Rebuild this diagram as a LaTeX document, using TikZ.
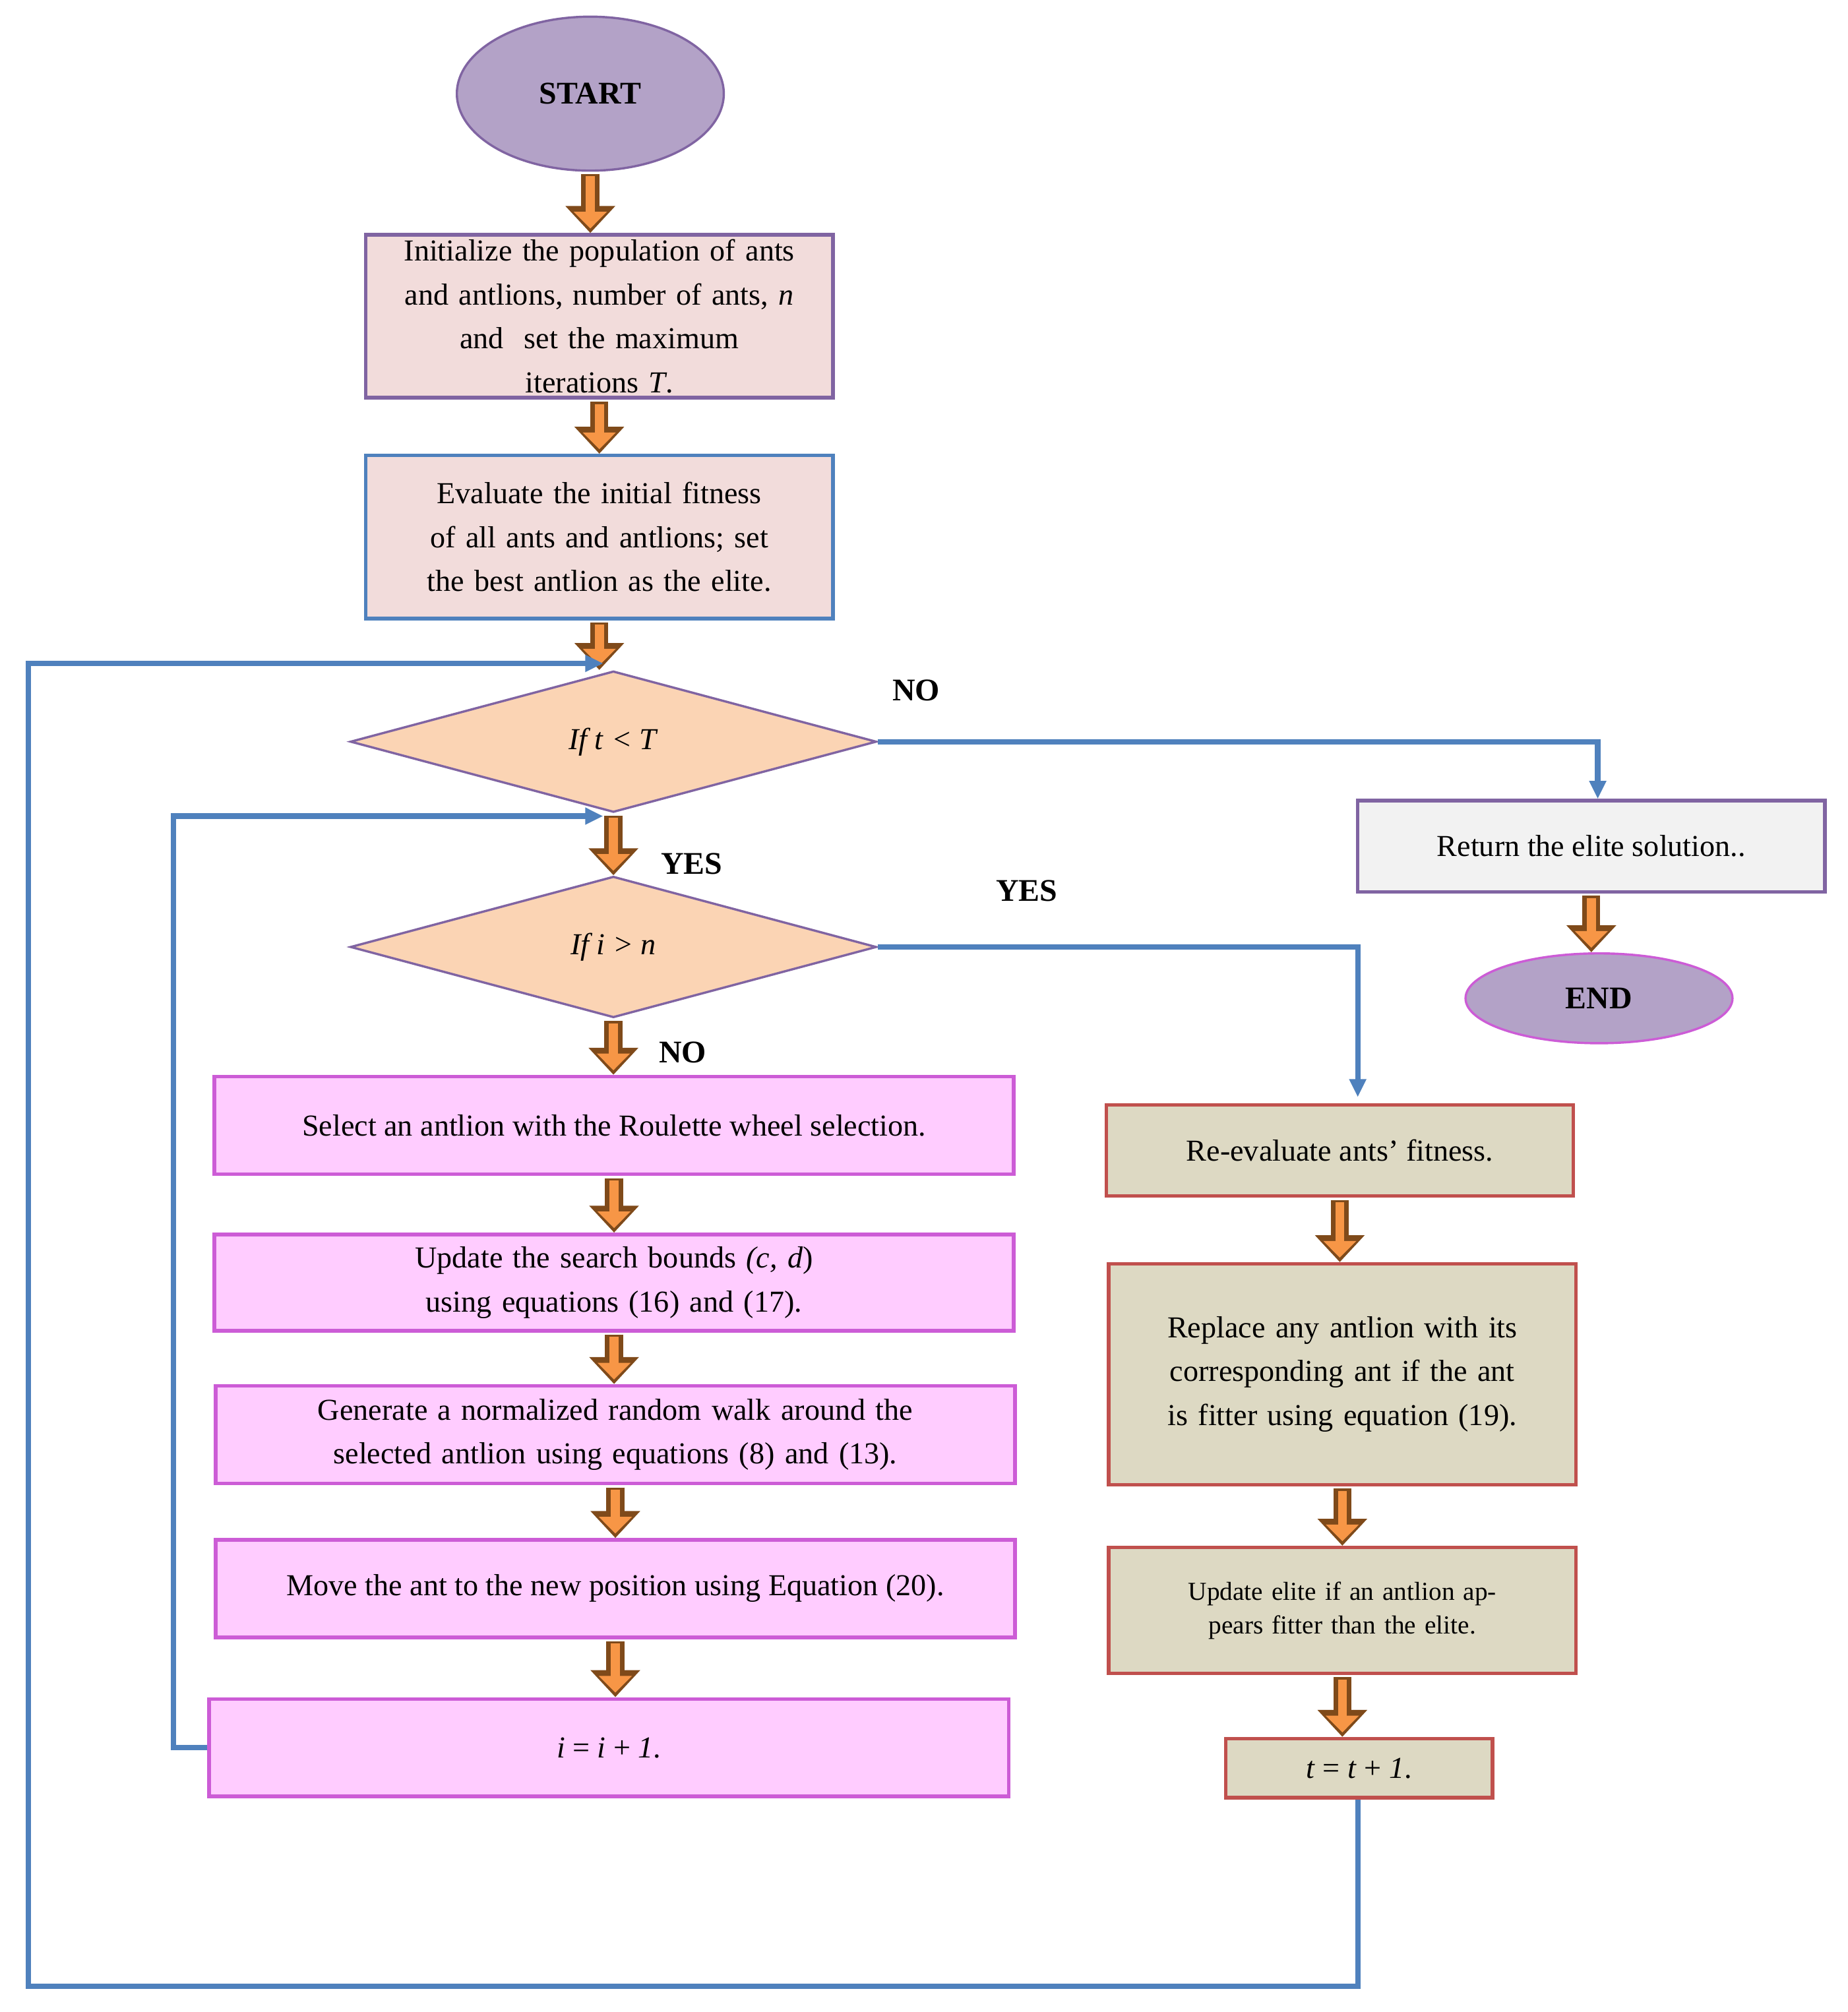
\documentclass[tikz,border=0pt]{standalone}
\usepackage{fontspec}
\setmainfont{Liberation Serif}
\usetikzlibrary{shapes.geometric,arrows.meta,calc}
\definecolor{blu}{HTML}{4F81BD}
\definecolor{pur}{HTML}{8064A2}
\definecolor{purf}{HTML}{B3A2C7}
\definecolor{pinkf}{HTML}{F2DCDB}
\definecolor{peach}{HTML}{FBD4B4}
\definecolor{mag}{HTML}{CC5CD6}
\definecolor{magf}{HTML}{FFCCFF}
\definecolor{redb}{HTML}{C0504D}
\definecolor{tan}{HTML}{DDD9C3}
\definecolor{oran}{HTML}{F79646}
\definecolor{brn}{HTML}{7F4A1A}
\begin{document}
\begin{tikzpicture}[x=0.02cm,y=-0.02cm,
  every node/.style={font=\fontsize{13.5}{19.5}\selectfont, align=center, inner sep=2pt},
  box/.style={draw, line width=1.6pt, minimum height=#1*0.02cm},
  oar/.style={line width=0.28cm, draw=brn, -{Triangle[length=0.42cm,width=0.75cm]}, shorten <=1pt},
  oarin/.style={line width=0.14cm, draw=oran, -{Triangle[length=0.26cm,width=0.5cm]}, shorten <=2pt, shorten >=0.07cm},
  bl/.style={draw=blu, line width=2.4pt, -{Triangle[length=0.28cm,width=0.25cm]}},
  lab/.style={font=\fontsize{14}{16}\selectfont\bfseries}]
\useasboundingbox (0,0) rectangle (1440,1568);
\node[ellipse, draw=pur, fill=purf, line width=1pt, minimum width=208*0.02cm, minimum height=120*0.02cm, font=\fontsize{14}{16}\selectfont\bfseries] (start) at (460,73) {START};
\node[box=127, draw=pur, fill=pinkf, minimum width=364*0.02cm, text width=340*0.02cm] (init) at (467,246.5) {Initialize the population of ants and antlions, number of ants, \textit{n}\\ and \ set the maximum\\ iterations \textit{T}.};
\node[box=127, draw=blu, fill=pinkf, minimum width=364*0.02cm, text width=340*0.02cm] (eval) at (467,418.5) {Evaluate the initial fitness of all ants and antlions; set the best antlion as the elite.};
\node[diamond, draw=pur, fill=peach, line width=1pt, minimum width=410*0.02cm, minimum height=110*0.02cm, inner sep=0pt, aspect=3.7] (d1) at (478,578) {\textit{If t} \textit{<} \textit{T}};
\node[diamond, draw=pur, fill=peach, line width=1pt, minimum width=410*0.02cm, minimum height=110*0.02cm, inner sep=0pt, aspect=3.7] (d2) at (478,738) {\textit{If i} \textit{>} \textit{n}};
\node[box=76, draw=mag, fill=magf, minimum width=623*0.02cm] (sel) at (478.5,877) {Select an antlion with the Roulette wheel selection.};
\node[box=75, draw=mag, fill=magf, minimum width=623*0.02cm, text width=600*0.02cm] (upd) at (478.5,999.5) {Update the search bounds \textit{(c, d}) using equations (16) and (17).};
\node[box=76, draw=mag, fill=magf, minimum width=623*0.02cm, text width=600*0.02cm] (gen) at (479.5,1118) {Generate a normalized random walk around the selected antlion using equations (8) and (13).};
\node[box=76, draw=mag, fill=magf, minimum width=623*0.02cm] (move) at (479.5,1238) {Move the ant to the new position using Equation (20).};
\node[box=76, draw=mag, fill=magf, minimum width=623*0.02cm] (inc) at (474.5,1362) {\textit{i} = \textit{i} + \textit{1}.};
\node[box=71, draw=pur, fill=black!5, minimum width=364*0.02cm] (ret) at (1240,659.5) {Return the elite solution..};
\node[ellipse, draw=mag, fill=purf, line width=1pt, minimum width=208*0.02cm, minimum height=70*0.02cm, font=\fontsize{14}{16}\selectfont\bfseries] (end) at (1246,778) {END};
\node[box=71, draw=redb, fill=tan, minimum width=364*0.02cm] (reev) at (1044,896.5) {Re-evaluate ants' fitness.};
\node[box=172, draw=redb, fill=tan, minimum width=364*0.02cm, text width=340*0.02cm] (repl) at (1046,1071) {Replace any antlion with its corresponding ant if the ant is fitter using equation (19).};
\node[box=98, draw=redb, fill=tan, minimum width=364*0.02cm, text width=340*0.02cm, font=\fontsize{11.5}{15}\selectfont] (upel) at (1046,1255) {Update elite if an antlion appears fitter than the elite.};
\node[box=46, draw=redb, fill=tan, minimum width=208*0.02cm] (tinc) at (1059,1378) {\textit{t} = \textit{t} + \textit{1}.};
% orange arrows
\foreach \a/\b in {start/init,init/eval,eval/d1,d1/d2,d2/sel,sel/upd,upd/gen,gen/move,move/inc,ret/end,reev/repl,repl/upel,upel/tinc}{
  \draw[oar] (\a.south) -- (\a.south |- \b.north);
  \draw[oarin] (\a.south) -- (\a.south |- \b.north);
}
% blue connectors
\coordinate (c1) at (1245,578);
\draw[bl] (d1.east) -- (c1) -- (c1 |- ret.north);
\coordinate (c2) at (1058,738);
\draw[bl] (d2.east) -- (c2) -- (1058,855);
\coordinate (l1) at (135,1362);
\coordinate (l2) at (135,636);
\coordinate (l3) at (470,636);
\draw[bl] (inc.west) -- (l1) -- (l2) -- (l3);
\coordinate (o1) at (1058,1548);
\coordinate (o2) at (22,1548);
\coordinate (o3) at (22,517);
\coordinate (o4) at (470,517);
\draw[bl] (tinc.south -| o1) -- (o1) -- (o2) -- (o3) -- (o4);
% labels
\node[lab] (no1) at (714,538) {NO};
\node[lab] (yes1) at (539,673) {YES};
\node[lab] (yes2) at (800,694) {YES};
\node[lab] (no2) at (532,820) {NO};
\end{tikzpicture}
\end{document}
